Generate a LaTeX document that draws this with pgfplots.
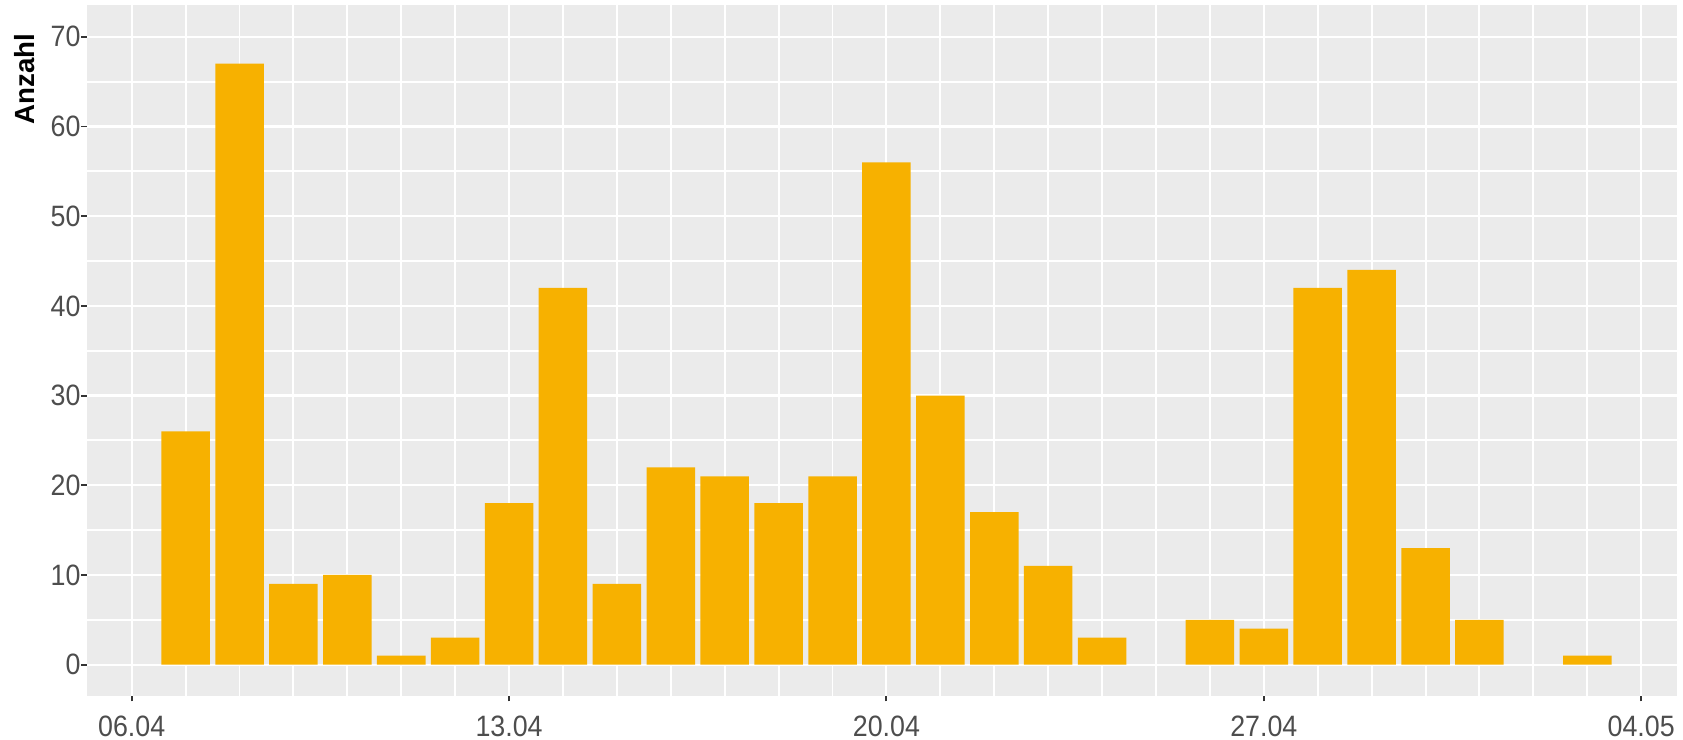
\documentclass[border=0pt]{standalone}
\usepackage{fontspec}
\setmainfont{Liberation Sans}
\newfontfamily\tickfont[FakeStretch=0.91]{Liberation Sans}
\usepackage{pgfplots}
\pgfplotsset{compat=1.18}
\definecolor{panelgray}{RGB}{235,235,235}
\definecolor{ticktext}{RGB}{77,77,77}
\definecolor{tickmark}{RGB}{51,51,51}
\definecolor{baryellow}{RGB}{247,177,0}

\begin{document}
\begin{tikzpicture}
  % page frame in the reference's proportions (1683 x 741 px, 1 px = 0.01 cm)
  \useasboundingbox (-0.869cm,-0.434cm) rectangle (16.0cm,6.976cm);
  \begin{axis}[
      name=ax, at={(0,0)}, anchor=south west,
      scale only axis, width=15.94cm, height=6.922cm,
      xmin=-0.835, xmax=28.665, ymin=-3.5, ymax=73.5,
      axis background/.style={fill=panelgray},
      axis line style={draw=none},
      xtick={0,7,14,21,28},
      xticklabels={06.04,13.04,20.04,27.04,04.05},
      ytick={0,10,...,70},
      minor x tick num=6, minor y tick num=1,
      grid=both,
      major grid style={white, line width=0.6pt},
      minor grid style={white, line width=0.55pt},
      tick pos=left, tick align=outside,
      major tick length=0.055cm, minor tick length=0pt,
      tick style={tickmark, line width=0.55pt},
      /pgf/number format/assume math mode=true,
      ticklabel style={font=\tickfont\fontsize{8.4}{10}\selectfont, text=ticktext, inner sep=0pt},
      yticklabel style={anchor=east},
      xticklabel style={anchor=north, yshift=-0.135cm},
      ybar, bar width=0.9, bar shift=0pt,
    ]
    \addplot[fill=baryellow, draw=none] coordinates {
      (1,26) (2,67) (3,9) (4,10) (5,1) (6,3) (7,18) (8,42) (9,9)
      (10,22) (11,21) (12,18) (13,21) (14,56) (15,30) (16,17) (17,11)
      (18,3) (20,5) (21,4) (22,42) (23,44) (24,13) (25,5) (27,1)
    };
  \end{axis}
  \node[rotate=90, anchor=east, inner sep=0pt, font=\bfseries\fontsize{7.9}{9}\selectfont]
    at ([xshift=-0.62cm, yshift=-0.276cm]ax.north west) {Anzahl};
\end{tikzpicture}
\end{document}
